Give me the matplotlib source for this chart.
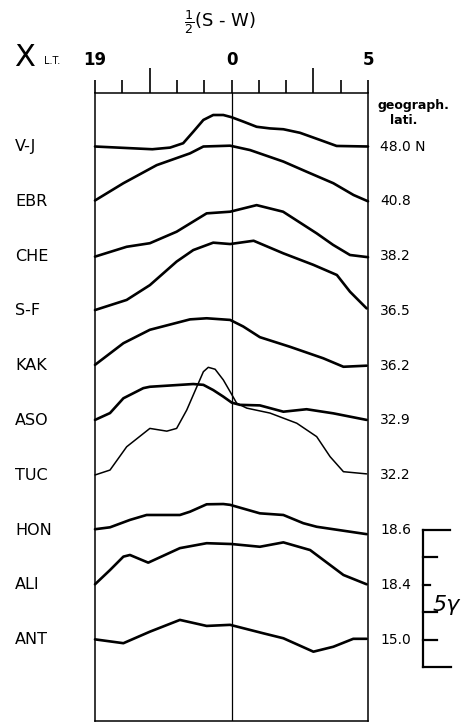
import matplotlib
matplotlib.use("Agg")
import matplotlib.pyplot as plt

# station names, geographic latitude labels
stations = ["V-J", "EBR", "CHE", "S-F", "KAK", "ASO", "TUC", "HON", "ALI", "ANT"]
latitudes = ["48.0 N", "40.8", "38.2", "36.5", "36.2", "32.9", "32.2", "18.6", "18.4", "15.0"]

# local time in hours from midnight (19h = -5, 5h = +5) and 1/2(S-W) in gamma
vj_t = [-5, -2.9, -2.25, -1.77, -1.40, -1.03, -0.67, -0.3, 0, 0.43, 0.92, 1.41, 1.9, 2.51, 3.24, 3.85, 5]
vj_v = [0, -0.1, -0.04, 0.12, 0.54, 0.97, 1.15, 1.15, 1.07, 0.91, 0.72, 0.66, 0.63, 0.5, 0.24, 0.02, 0]

ebr_t = [-5, -3.96, -2.74, -1.52, -1.03, -0.05, 0.68, 1.9, 2.75, 3.73, 4.47, 5]
ebr_v = [0.03, 0.66, 1.32, 1.75, 2.0, 2.03, 1.87, 1.45, 1.08, 0.66, 0.23, 0]

che_t = [-5, -3.84, -2.99, -2.01, -0.91, -0.05, 0.92, 1.89, 3.12, 3.72, 4.34, 5]
che_v = [-0.02, 0.34, 0.47, 0.89, 1.56, 1.62, 1.86, 1.62, 0.83, 0.41, 0.04, -0.04]

sf_t = [-5, -3.84, -2.99, -2.01, -1.40, -0.67, -0.05, 0.81, 1.90, 3.0, 3.86, 4.34, 4.95]
sf_v = [0.03, 0.4, 0.94, 1.8, 2.22, 2.49, 2.44, 2.56, 2.1, 1.68, 1.31, 0.7, 0.09]

kak_t = [-5, -3.96, -2.99, -1.52, -0.91, -0.05, 0.43, 1.04, 2.14, 3.36, 4.10, 4.95]
kak_v = [0.03, 0.82, 1.31, 1.69, 1.73, 1.67, 1.43, 1.04, 0.69, 0.27, -0.04, 0]

aso_t = [-5, -4.45, -3.96, -3.23, -2.99, -1.40, -1.03, -0.67, -0.30, 0.01, 0.31, 1.04, 1.90, 2.75, 3.73, 4.95]
aso_v = [0.02, 0.27, 0.81, 1.18, 1.23, 1.33, 1.30, 1.11, 0.87, 0.65, 0.57, 0.55, 0.32, 0.41, 0.26, 0.02]

tuc_t = [-5, -4.45, -3.84, -2.99, -2.37, -2.01, -1.64, -1.27, -1.03, -0.85, -0.60, -0.30, -0.05,
         0.19, 0.56, 1.41, 2.39, 3.12, 3.61, 4.10, 4.95]
tuc_v = [0.01, 0.19, 1.04, 1.71, 1.61, 1.71, 2.38, 3.23, 3.78, 3.94, 3.87, 3.48, 3.05,
         2.63, 2.45, 2.27, 1.9, 1.41, 0.68, 0.13, 0.05]

hon_t = [-5, -4.45, -3.72, -3.11, -1.89, -1.52, -0.91, -0.3, -0.05, 1.04, 1.90, 2.63, 3.12, 4.95]
hon_v = [0.03, 0.1, 0.37, 0.55, 0.55, 0.67, 0.94, 0.95, 0.92, 0.61, 0.55, 0.25, 0.12, -0.15]

ali_t = [-5, -4.45, -3.96, -3.72, -3.05, -1.89, -0.91, 0.0, 1.04, 1.90, 2.88, 4.1, 4.95]
ali_v = [0.02, 0.54, 1.03, 1.09, 0.81, 1.34, 1.52, 1.49, 1.39, 1.55, 1.27, 0.36, 0.02]

ant_t = [-5, -3.96, -2.99, -1.89, -0.91, -0.05, 1.17, 1.90, 3.0, 3.73, 4.46, 4.95]
ant_v = [0.01, -0.13, 0.29, 0.72, 0.5, 0.54, 0.23, 0.05, -0.44, -0.26, 0.03, 0.03]

series = [(vj_t, vj_v), (ebr_t, ebr_v), (che_t, che_v), (sf_t, sf_v), (kak_t, kak_v),
          (aso_t, aso_v), (tuc_t, tuc_v), (hon_t, hon_v), (ali_t, ali_v), (ant_t, ant_v)]

STEP = 2.0  # gamma between station baselines
W, H = 465, 724

fig = plt.figure(figsize=(W / 100, H / 100), dpi=100)
ax = fig.add_axes([95 / W, 1 - 721 / H, 273 / W, 628 / H])
ax.set_xlim(-5, 5)
ax.set_ylim(-20.97, 1.953)

for i, (t, v) in enumerate(series):
    base = -STEP * i
    lw = 1.1 if stations[i] == "TUC" else 1.9
    ax.plot(t, [base + y for y in v], color="black", lw=lw,
            solid_joinstyle="round", solid_capstyle="round", clip_on=False)
    trans = ax.get_yaxis_transform()
    ax.text(-0.293, base, stations[i], transform=trans, ha="left", va="center",
            fontsize=11.5)
    ax.text(1.044, base, latitudes[i], transform=trans, ha="left", va="center",
            fontsize=10)

ax.axvline(0, color="black", lw=0.9)

for s in ax.spines.values():
    s.set_linewidth(1.1)

# top time axis
ax.xaxis.set_ticks_position("top")
ax.set_xticks([-5, -4, -2, -1, 0, 1, 2, 4, 5])
ax.set_xticklabels(["19", "", "", "", "0", "", "", "", "5"], fontsize=12, fontweight="bold")
ax.set_xticks([-3, 3], minor=True)
ax.tick_params(axis="x", which="major", direction="out", length=9.4, width=1.2, pad=8)
ax.tick_params(axis="x", which="minor", direction="out", length=18, width=1.2)
ax.set_yticks([])

# 5 gamma scale bar
hb = -STEP * 7
ax.plot([7.01, 7.01], [hb, hb - 5], color="black", lw=1.6, clip_on=False)
for k, xe in enumerate([8.0, 7.53, 7.27, 7.53, 7.53, 8.05]):
    ax.plot([7.01, xe], [hb - k, hb - k], color="black", lw=1.6, clip_on=False)
ax.text(7.85, hb - 2.75, "5γ", fontsize=16, style="italic", ha="center", va="center")

# annotations
fig.text(220 / W, 1 - 22 / H, r"$\frac{1}{2}$(S - W)", fontsize=13, ha="center", va="center")
fig.text(25 / W, 1 - 57 / H, "X", fontsize=22, ha="center", va="center")
fig.text(52 / W, 1 - 61 / H, "L.T.", fontsize=7, ha="center", va="center")
fig.text(413 / W, 1 - 105 / H, "geograph.", fontsize=9, fontweight="bold", ha="center", va="center")
fig.text(404 / W, 1 - 121 / H, "lati.", fontsize=9, fontweight="bold", ha="center", va="center")

plt.savefig("out.png", dpi=100)
plt.close()
